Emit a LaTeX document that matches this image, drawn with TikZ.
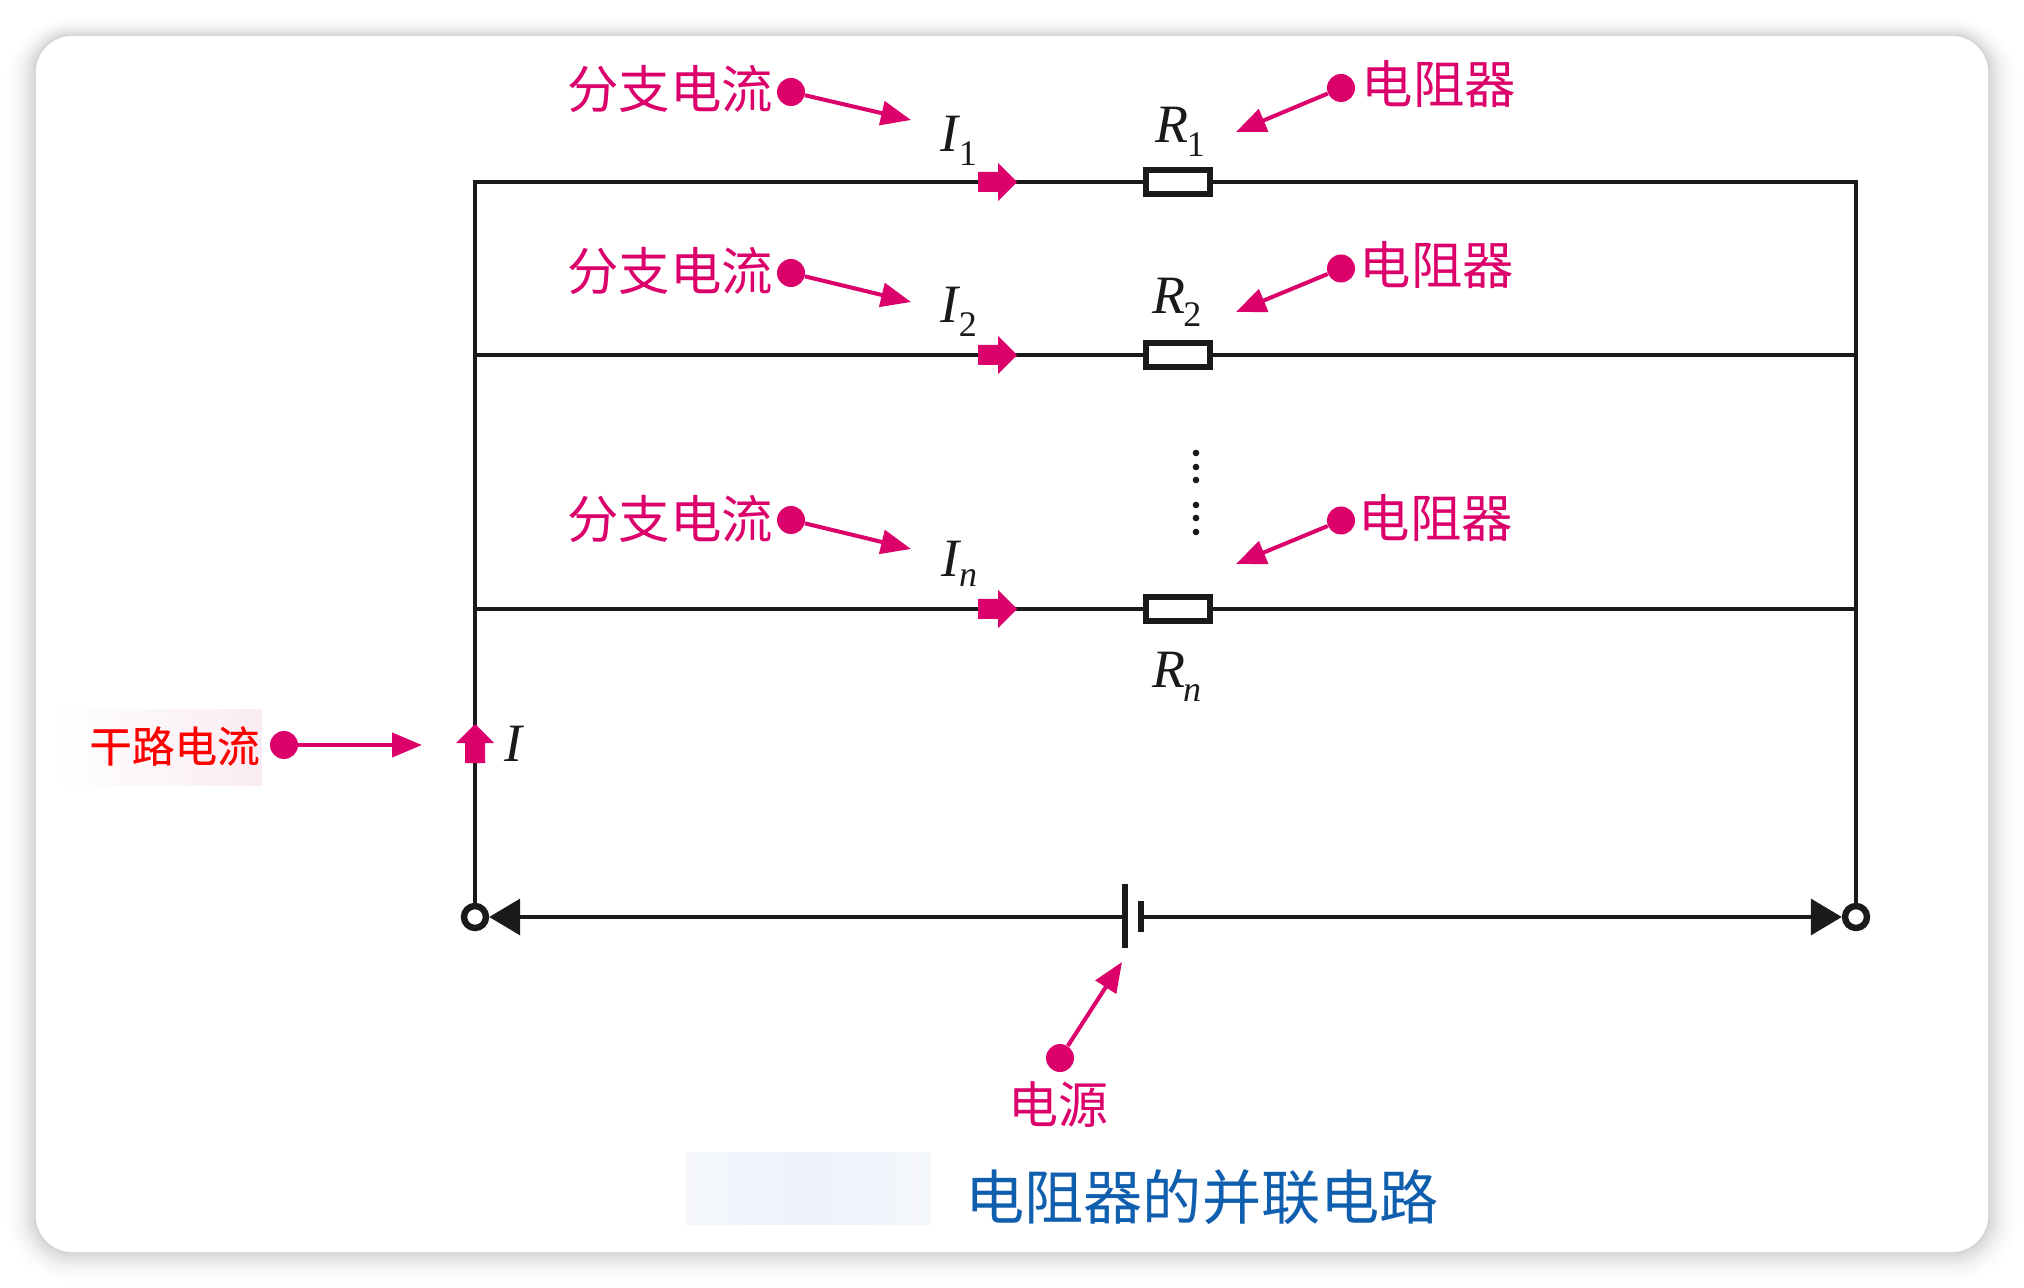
\documentclass[tikz,border=0pt]{standalone}
\usepackage{fontspec}
\setmainfont{Liberation Serif}
\newfontfamily\cjk{Noto Sans CJK SC}
\newfontfamily\cjkm[FakeBold=0.35]{Noto Sans CJK SC}
\usetikzlibrary{arrows.meta,calc}
\definecolor{pk}{HTML}{DC006B}
\definecolor{ink}{HTML}{1A1A1A}
\definecolor{ttl}{HTML}{0F5FAE}
\definecolor{pinkbg}{HTML}{F9ECF3}
\definecolor{bluebg}{HTML}{EDF2FA}
\definecolor{bluebgb}{HTML}{F5F7FC}
\newcommand{\pxfont}[1]{\fontsize{#1}{#1}\selectfont}
\newcommand{\symlab}[4]{{\pxfont{27}\textit{#1}\kern#2pt\raisebox{#3pt}{\pxfont{18}#4}}}
\tikzset{
  wire/.style={draw=ink,line width=1.8pt},
  res/.style={draw=ink,fill=white,line width=3.2pt,minimum width=32pt,minimum height=12pt,inner sep=0pt},
  term/.style={circle,draw=ink,fill=white,line width=3.2pt,minimum size=11pt,inner sep=0pt},
  dotn/.style={circle,fill=pk,minimum size=14pt,inner sep=0pt},
  callout/.style={draw=pk,line width=2pt,-{Triangle[length=15pt,width=12pt,fill=pk]}},
  batarrow/.style={wire,-{Triangle[length=15.5pt,width=18pt,fill=ink]}},
  pinklab/.style={text=pk,inner sep=0pt,font=\cjk\pxfont{25.7}},
  sym/.style={anchor=base west,inner sep=0pt,text=ink},
  tiny/.style={circle,fill=ink,minimum size=3.3pt,inner sep=0pt},
  cur/.style={fill=pk,draw=none}
}
\begin{document}
\begin{tikzpicture}[x=.5pt,y=-.5pt]
\useasboundingbox (0,0) rectangle (2024,1288);
\fill[white] (0,0) rectangle (2024,1288);
% card shadow
\foreach \i in {36,34,...,2}{
  \pgfmathsetmacro{\g}{100-18*(1-\i/36)^2.2}
  \fill[black!\fpeval{100-\g}!white,rounded corners=\fpeval{18+\i/2}pt]
    ({36-\i},{36-\i*0.6}) rectangle ({1988+\i},{1252+\i});
}
\fill[white,rounded corners=18pt] (36,36) rectangle (1988,1252);
% faded patches
\fill[left color=white,right color=pinkbg,draw=none] (52,709) rectangle (262,785);
\fill[left color=bluebgb,right color=bluebgb,middle color=bluebg,draw=none] (686,1152) rectangle (931,1224);
% corner and junction coordinates
\coordinate (tl) at (475,182);
\coordinate (tr) at (1856,182);
\coordinate (ml) at (475,355);
\coordinate (mr) at (1856,355);
\coordinate (nl) at (475,609);
\coordinate (nr) at (1856,609);
\coordinate (batl) at (1125,917);
\coordinate (batr) at (1143,917);
% components
\node[term] (tl0) at (475,917) {};
\node[term] (tr0) at (1856,917) {};
\node[res] (r1) at (1178,182) {};
\node[res] (r2) at (1178,355) {};
\node[res] (rn) at (1178,609) {};
% wires
\draw[wire] (tl0) -- (tl) -- (r1) -- (tr) -- (tr0);
\draw[wire] (ml) -- (r2) -- (mr);
\draw[wire] (nl) -- (rn) -- (nr);
\draw[batarrow] (batl) -- (tl0);
\draw[batarrow] (batr) -- (tr0);
% battery plates
\draw[ink,line width=3pt] (1125,884) -- (1125,948);
\draw[ink,line width=3pt] (1141,901) -- (1141,932);
% current arrows
\foreach \y in {182,355,609}{
  \fill[cur] (978,\y-10) -- (998,\y-10) -- (998,\y-19) -- (1017,\y) -- (998,\y+19) -- (998,\y+10) -- (978,\y+10) -- cycle;
}
\fill[cur] (465,763) -- (465,743) -- (456,743) -- (475,724) -- (494,743) -- (485,743) -- (485,763) -- cycle;
% symbols
\node[sym] (i1) at (940,152) {\symlab{I}{-0.8}{-7}{1}};
\node[sym] (i2) at (940,323) {\symlab{I}{-0.8}{-7}{2}};
\node[sym] (in) at (941,577) {\symlab{I}{-1.2}{-5}{\textit{n}}};
\node[sym] (s1) at (1155,143) {\symlab{R}{-0.8}{-7}{1}};
\node[sym] (s2) at (1152,314) {\symlab{R}{-1}{-6.5}{2}};
\node[sym] (sn) at (1152,688) {\symlab{R}{-1.2}{-6.5}{\textit{n}}};
\node[sym] (ii) at (504,761) {\pxfont{27}\textit{I}};
% vertical dots
\foreach \y/\k in {453/a,467/b,480/c,505/d,518/e,532/f}{
  \node[tiny] (v\k) at (1196,\y) {};
}
% left callouts
\foreach \n/\y/\ty/\ly in {a/92/120/89,b/273/302/271,c/520/549/519}{
  \node[dotn] (dl\n) at (791,\y) {};
  \coordinate (tl\n) at (911,\ty);
  \draw[callout] (dl\n) -- (tl\n);
  \node[pinklab] (ll\n) at (670,\ly) {分支电流};
}
% right callouts
\foreach \n/\y/\ty/\ly/\lx in {a/88/132/84/1439,b/268.5/312/265/1437,c/520.5/564/518/1436}{
  \node[dotn] (dr\n) at (1341,\y) {};
  \coordinate (tr\n) at (1236,\ty);
  \draw[callout] (dr\n) -- (tr\n);
  \node[pinklab] (lr\n) at (\lx,\ly) {电阻器};
}
% main current callout
\node[dotn] (dm) at (284,745) {};
\coordinate (tm) at (422,745);
\draw[callout] (dm) -- (tm);
\node[inner sep=0pt,text=red,font=\cjkm\pxfont{21.3}] (lm) at (174.5,746) {干路电流};
% source callout
\node[dotn] (ds) at (1060,1058) {};
\coordinate (ts) at (1122,962);
\draw[callout] (ds) -- (ts);
\node[pinklab,font=\cjk\pxfont{25}] (ls) at (1058,1105) {电源};
% title
\node[inner sep=0pt,text=ttl,font=\cjk\pxfont{29.6}] (title) at (1202,1197) {电阻器的并联电路};
\end{tikzpicture}
\end{document}
